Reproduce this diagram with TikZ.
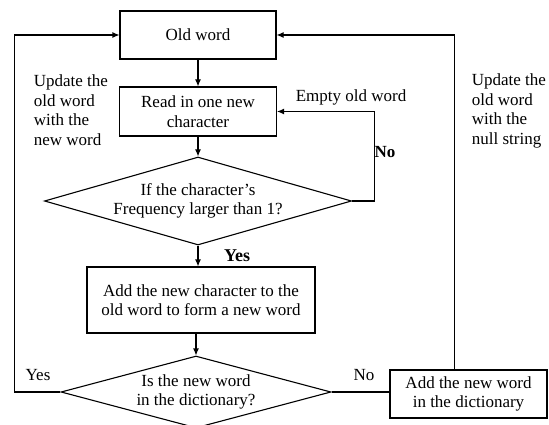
\documentclass[tikz,border=0pt]{standalone}
\usepackage{fontspec}
\setmainfont{Liberation Serif}
\usetikzlibrary{shapes.geometric,arrows.meta,calc}

\begin{document}
\begin{tikzpicture}[x=1pt,y=-1pt,line width=1.1pt,
		every node/.style={font=\fontsize{17}{19.5}\selectfont},
		box/.style={draw,rectangle,align=center,inner sep=0pt},
		test/.style={draw,diamond,align=center,inner sep=0pt,aspect=3.5},
		arr/.style={-{Latex[length=7pt,width=6pt]}}]
		\useasboundingbox (0,0) rectangle (549,425);
		
		\node[box,minimum width=156pt,minimum height=48pt] (old) at (198,35) {Old word};
		\node[box,minimum width=157pt,minimum height=49pt] (read) at (198,111.5) {Read in one new\\character};
		\node[test,minimum width=307pt,minimum height=88pt] (freq) at (198,201) {If the character’s\\Frequency larger than 1?};
		\node[box,minimum width=228pt,minimum height=66pt] (addchar) at (201,300) {Add the new character to the\\old word to form a new word};
		\node[test,minimum width=270pt,minimum height=72pt] (dict) at (196,392) {Is the new word\\in the dictionary?};
		\node[box,minimum width=157pt,minimum height=48pt] (adddict) at (468.5,394) {Add the new word\\in the dictionary};
		
		\draw[arr] (old.south) -- (read.north);
		\draw[arr] (read.south) -- (freq.north);
		\draw[arr] (freq.south) -- (freq.south |- addchar.north);
		\draw[arr] (dict.north |- addchar.south) -- (dict.north);
		
		\draw[arr] (freq.east) -- ++(22,0) |- (read.east);
		\draw[arr] (dict.west) -- ++(-46,0) |- (old.west);
		\draw (dict.east) -- (dict.east -| adddict.west);
		\draw[arr] ([xshift=-14pt]adddict.north) |- (old.east);
		
		\node[anchor=west,align=left] (updnew) at (30,110) {Update the\\old word\\with the\\new word};
		\node[anchor=west,align=left] (updnull) at (468,111) {Update the\\old word\\with the\\null string};
		\node (empty) at (351,97) {Empty old word};
		\node (no1) at (385,152) {\bfseries No};
		\node (yes1) at (237,256) {\fontsize{18}{20}\selectfont\bfseries Yes};
		\node (yes2) at (38,375) {Yes};
		\node (no2) at (364,375) {No};
	
	\end{tikzpicture}
\end{document}
